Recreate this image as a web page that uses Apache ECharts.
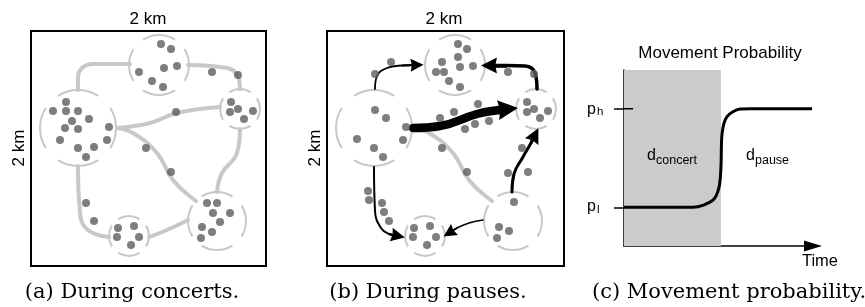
<!DOCTYPE html>
<html>
<head>
<meta charset="utf-8">
<script src="https://cdn.jsdelivr.net/npm/echarts@6/dist/echarts.min.js"></script>
<style>
  html, body { margin: 0; padding: 0; background: #fff; }
  #chart { width: 865px; height: 307px; }
</style>
</head>
<body>
<div id="chart"></div>
<script>
// venues inside the 2 km square, px units: [cx, cy, r]
const venues = [[128, 34, 30], [47, 97, 38], [209, 78, 20], [186, 190, 29], [98, 205, 20]];

// visitors during concerts
const concertDots = [
  [130, 13], [140, 18], [133, 37], [146, 35], [108, 41], [121, 50], [132, 56],
  [181, 41], [207, 44],
  [35, 71], [22, 80], [35, 80], [47, 80], [41, 90], [58, 88], [34, 97], [47, 98],
  [29, 109], [47, 117], [63, 116], [55, 126], [78, 96], [76, 109],
  [145, 81], [115, 117], [140, 141],
  [200, 71], [199, 81], [207, 78], [222, 80], [213, 88],
  [176, 172], [186, 172], [182, 182], [199, 182], [189, 191], [171, 196], [181, 201], [170, 207],
  [55, 172], [63, 190],
  [87, 197], [103, 195], [86, 206], [108, 206], [100, 214],
];

// visitors during pauses
const pauseDots = [
  [131, 13], [140, 18], [115, 31], [131, 26], [133, 36], [146, 35], [109, 41], [117, 41], [122, 50], [133, 56],
  [64, 31], [48, 43],
  [181, 41], [207, 43],
  [48, 79], [59, 87], [79, 96], [30, 108], [76, 109], [47, 117], [56, 126],
  [113, 87], [127, 81], [151, 73], [138, 98], [148, 93], [162, 90], [115, 117], [140, 141],
  [200, 71], [200, 81], [207, 78], [221, 80], [213, 87],
  [195, 117], [181, 142], [201, 141],
  [187, 171], [172, 196], [182, 200], [170, 207],
  [41, 160], [42, 169], [55, 172], [57, 181], [62, 190],
  [87, 197], [103, 195], [86, 206], [109, 206], [100, 214],
];

// walkways between venues
const walkways = [
  [[99, 33], [62, 33], [51, 37], [47, 47], [47, 59]],
  [[157, 34], [196, 37], [208, 48], [209, 58]],
  [[86, 97], [119, 92], [146, 82], [189, 76]],
  [[86, 97], [102, 102], [126, 122], [142, 149], [165, 170]],
  [[209, 98], [206, 122], [191, 142], [186, 161]],
  [[47, 135], [49, 182], [57, 199], [78, 206]],
  [[118, 206], [136, 199], [157, 189]],
];
const pauseWalkway = [[86, 97], [102, 102], [126, 122], [142, 149], [165, 170]];

// flows during pauses
const flows = [
  [[48, 58], [50, 45], [60, 37], [75, 34.5], [90, 34]],
  [[210, 58], [208, 42], [198, 35], [180, 34.5], [162, 34.5]],
  [[86, 97], [113, 95], [150, 83], [172, 79], [181, 78]],
  [[185, 161], [187, 143], [196, 126], [204, 112], [208, 104]],
  [[47, 136], [48, 180], [54, 197], [62, 203], [71, 205]],
  [[156, 189], [142, 192], [130, 197], [122, 202]],
];
const flowWidths = [1.8, 3.5, 8.5, 3, 2, 1.5];
const flowHeads = [[10, 13], [13, 16], [21, 20], [11, 15], [10, 14], [10, 13]];

// movement probability over time
const probCurve = [
  [0, 0.22], [36.5, 0.22], [47, 0.26], [50.3, 0.335], [51.3, 0.45], [51.9, 0.64],
  [54.5, 0.735], [61.4, 0.778], [67, 0.78], [99.5, 0.78],
];
const concertEnd = 51.3;
const probLevels = [0.22, 0.78];

const SANS = "Liberation Sans, Arial, sans-serif";
const SERIF = "DejaVu Serif, serif";
const GRAY = "#c8c8c8";
const DOT = "#5e5e5e";
const ARROW_HEAD = "path://M5,0 L10,14 L5,12.5 L0,14 Z";

function venueSeries(idx) {
  return {
    type: "custom",
    xAxisIndex: idx,
    yAxisIndex: idx,
    data: venues,
    silent: true,
    z: 3,
    renderItem(params, api) {
      const c = api.coord([api.value(0), api.value(1)]);
      const r = api.size([api.value(2), 0])[0];
      const children = [];
      for (let k = 0; k < 4; k++) {
        const m = (k * Math.PI) / 2;
        children.push({
          type: "arc",
          shape: { cx: c[0], cy: c[1], r, startAngle: m - 0.56, endAngle: m + 0.56 },
          style: { stroke: GRAY, lineWidth: 2, fill: "none" },
        });
      }
      return { type: "group", children };
    },
  };
}

function curve(idx, pts, color, width, z) {
  return {
    type: "line",
    xAxisIndex: idx,
    yAxisIndex: idx,
    data: pts,
    smooth: 0.45,
    symbol: "none",
    silent: true,
    lineStyle: { color, width, cap: "round" },
    z,
  };
}

function dots(idx, pts) {
  return {
    type: "scatter",
    xAxisIndex: idx,
    yAxisIndex: idx,
    data: pts,
    symbolSize: 8,
    silent: true,
    itemStyle: { color: DOT },
    z: 6,
  };
}

const series = [];
series.push(venueSeries(0), venueSeries(1));
walkways.forEach((w) => series.push(curve(0, w, GRAY, 4, 2)));
series.push(curve(1, pauseWalkway, GRAY, 4, 2));
series.push(dots(0, concertDots), dots(1, pauseDots));
flows.forEach((f, i) => {
  series.push(curve(1, f, "#000", flowWidths[i], 5));
  series.push({
    type: "lines",
    coordinateSystem: "cartesian2d",
    xAxisIndex: 1,
    yAxisIndex: 1,
    symbol: ["none", ARROW_HEAD],
    symbolSize: flowHeads[i],
    silent: true,
    lineStyle: { color: "#000", width: flowWidths[i], opacity: 1, curveness: 0 },
    data: [{ coords: [f[f.length - 2], f[f.length - 1]] }],
    z: 5,
  });
});
series.push({
  type: "line",
  xAxisIndex: 2,
  yAxisIndex: 2,
  data: probCurve,
  smooth: 0.3,
  symbol: "none",
  silent: true,
  lineStyle: { color: "#000", width: 3 },
  z: 4,
  markArea: {
    silent: true,
    itemStyle: { color: "#cbcbcb" },
    data: [[{ coord: [0, 0] }, { coord: [concertEnd, 1] }]],
  },
});
// inner half of the p_h tick
series.push({
  type: "line",
  xAxisIndex: 2,
  yAxisIndex: 2,
  data: [[0, probLevels[1]], [4.8, probLevels[1]]],
  symbol: "none",
  silent: true,
  lineStyle: { color: "#000", width: 1.5 },
  z: 4,
});

function txt(x, y, text, size, opts = {}) {
  return {
    type: "text",
    x,
    y,
    rotation: opts.rotation || 0,
    style: {
      text,
      fill: "#000",
      font: `${size}px ${opts.family || SANS}`,
      align: opts.align || "center",
      verticalAlign: "middle",
    },
    z: 10,
  };
}

const graphic = [
  txt(148, 19, "2 km", 17),
  txt(444, 19, "2 km", 17),
  txt(19, 148, "2 km", 17, { rotation: Math.PI / 2 }),
  txt(315, 148, "2 km", 17, { rotation: Math.PI / 2 }),
  txt(720, 53, "Movement Probability", 17),
  txt(820, 261, "Time", 16.5),
  txt(587, 110, "p", 16, { align: "left" }),
  txt(597, 112, "h", 11.5, { align: "left" }),
  txt(587, 207, "p", 16, { align: "left" }),
  txt(597, 210, "l", 11.5, { align: "left" }),
  txt(647, 156, "d", 16, { align: "left" }),
  txt(656, 161, "concert", 12.5, { align: "left" }),
  txt(746, 156, "d", 16, { align: "left" }),
  txt(755, 161, "pause", 12.5, { align: "left" }),
  txt(132, 293, "(a) During concerts.", 21, { family: SERIF }),
  txt(428, 293, "(b) During pauses.", 21, { family: SERIF }),
  txt(729, 293, "(c) Movement probability.", 21, { family: SERIF }),
];

const chart = echarts.init(document.getElementById("chart"), null, { renderer: "canvas" });
chart.setOption({
  animation: false,
  backgroundColor: "#fff",
  grid: [
    { left: 31, top: 31, width: 235, height: 235, show: true, borderColor: "#000", borderWidth: 2, backgroundColor: "transparent" },
    { left: 327, top: 31, width: 237, height: 235, show: true, borderColor: "#000", borderWidth: 2, backgroundColor: "transparent" },
    { left: 624, top: 70, width: 189, height: 176 },
  ],
  xAxis: [
    { gridIndex: 0, type: "value", min: 0, max: 235, show: false },
    { gridIndex: 1, type: "value", min: 0, max: 237, show: false },
    {
      gridIndex: 2,
      type: "value",
      min: 0,
      max: 100,
      axisLine: { show: true, symbol: ["none", "triangle"], symbolSize: [11, 18], lineStyle: { color: "#000", width: 1.5 } },
      axisTick: { show: false },
      axisLabel: { show: false },
      splitLine: { show: false },
    },
  ],
  yAxis: [
    { gridIndex: 0, type: "value", min: 0, max: 235, inverse: true, show: false },
    { gridIndex: 1, type: "value", min: 0, max: 235, inverse: true, show: false },
    {
      gridIndex: 2,
      type: "value",
      min: 0,
      max: 1,
      axisLine: { show: true, lineStyle: { color: "#000", width: 1.5 } },
      axisTick: { show: true, customValues: probLevels, length: 10, lineStyle: { color: "#000", width: 1.5 } },
      axisLabel: { show: false },
      splitLine: { show: false },
    },
  ],
  series,
  graphic,
});
</script>
</body>
</html>
